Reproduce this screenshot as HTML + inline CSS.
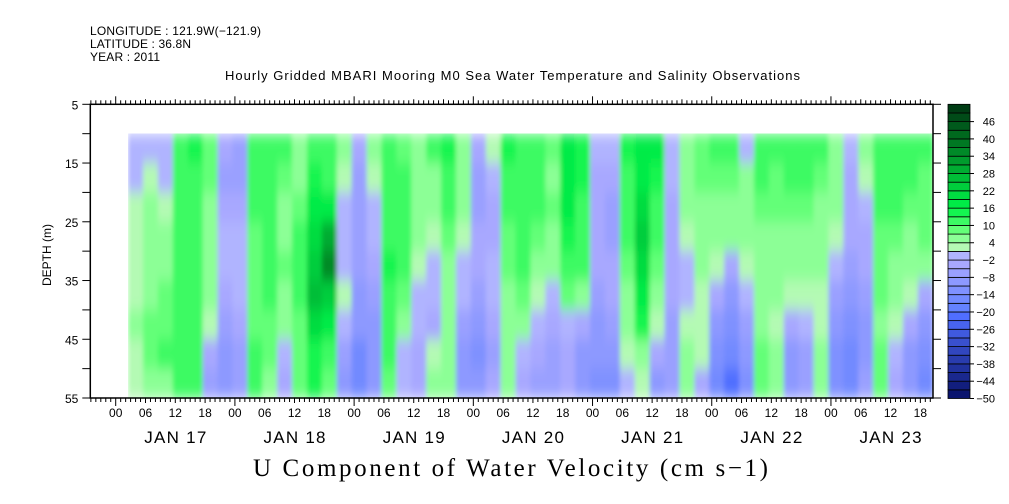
<!DOCTYPE html>
<html><head><meta charset="utf-8">
<style>
body{margin:0;background:#fff;}
svg{display:block;font-family:"Liberation Sans",sans-serif;}
</style></head>
<body>
<svg id="chart" width="1009" height="504" viewBox="0 0 1009 504" xmlns="http://www.w3.org/2000/svg">
<defs>
<filter id="smooth" x="0" y="0" width="1" height="1" filterUnits="objectBoundingBox">
<feGaussianBlur stdDeviation="2.2 7" edgeMode="duplicate"/>
</filter>
</defs>
<text x="90" y="35" font-size="12" textLength="171">LONGITUDE : 121.9W(−121.9)</text>
<text x="90" y="48" font-size="12" textLength="101">LATITUDE : 36.8N</text>
<text x="90" y="61" font-size="12" textLength="70">YEAR : 2011</text>
<text x="225" y="80" font-size="13" textLength="575">Hourly Gridded MBARI Mooring M0 Sea Water Temperature and Salinity Observations</text>
<text x="0" y="0" font-size="12" text-anchor="middle" transform="translate(51,255) rotate(-90)">DEPTH (m)</text>
<text x="253" y="476" font-size="25" textLength="515" font-family="Liberation Serif, serif">U Component of Water Velocity (cm s−1)</text>
<g id="cells" filter="url(#smooth)"></g>
<g id="axes"></g>
<g id="cbar"></g>
</svg>
<script>
// hours since Jan 17 00:00 at start of each 3-hour column
const colStartHours = [];
for (let i = 0; i < 54; i++) colStartHours.push(2.5 + 3 * i);
const depthEdges = [10,15,20,25,30,35,40,45,50,55];
const dayLabels = ["JAN 17","JAN 18","JAN 19","JAN 20","JAN 21","JAN 22","JAN 23"];
const hourLabels = ["00","06","12","18"];
const depthTicks = [5,15,25,35,45,55];
const cbarLabels = [46,40,34,28,22,16,10,4,-2,-8,-14,-20,-26,-32,-38,-44,-50];
// values[column][depth row top->bottom] (cm/s)
const values = [
[-2,-1,2,3,3,3,4,2,3],[0,2,4,5,6,6,8,8,6],[-2,0,3,5,6,8,8,10,6],[12,12,10,10,10,10,12,12,10],
[14,12,12,12,10,10,12,12,12],[8,8,6,6,6,4,2,-4,-6],[-4,-6,-4,-2,-2,-4,-6,-8,-8],[-6,-6,-4,-2,-2,-2,-4,-6,-6],
[12,10,10,8,8,8,8,10,10],[12,12,12,10,10,10,8,8,6],[10,8,6,6,8,6,4,-2,-4],[4,6,8,10,10,10,8,8,8],
[12,14,16,20,24,26,20,14,14],[10,12,16,28,34,24,16,10,8],[4,2,0,-2,0,2,0,-6,-8],[-4,-6,-6,-6,-6,-8,-10,-14,-16],
[4,2,0,-2,-4,-6,-8,-10,-8],[10,10,12,12,14,12,12,10,8],[8,10,10,10,10,8,6,0,-2],[6,4,4,4,2,0,-2,-4,-4],
[10,6,4,2,0,-2,-4,2,4],[14,12,10,8,6,4,4,6,6],[6,6,4,2,0,-2,-6,-10,-10],[-4,-6,-6,-4,-4,-6,-8,-12,-10],
[2,-2,-4,-4,-2,-2,-4,-6,-4],[14,12,10,8,8,6,4,4,4],
[12,12,12,10,10,8,4,-2,-4],[10,10,10,8,6,2,-2,-4,-6],[8,6,8,6,4,0,-4,-6,-6],[16,18,16,14,12,8,0,-4,-4],
[14,14,12,12,10,4,-4,-8,-10],[-2,-4,-4,-4,-4,-6,-8,-10,-12],[-2,-4,-6,-6,-4,-4,-6,-10,-12],[14,12,12,10,8,6,4,2,-2],
[18,18,20,22,20,18,14,6,2],[16,14,12,10,8,4,2,-4,-8],[-2,-2,-4,-4,-4,-4,-6,-6,-6],[6,6,4,2,-2,-2,2,4,4],
[8,8,6,4,4,2,2,2,-4],[10,8,6,4,2,-4,-8,-12,-14],[10,8,6,4,-4,-8,-12,-16,-20],[-2,4,6,4,2,-2,-6,-10,-12],
[10,10,8,6,4,4,6,8,8],[10,8,8,6,4,4,2,4,6],[10,10,8,6,4,2,-4,-8,-10],[12,10,8,6,4,2,-2,-6,-6],
[10,8,6,4,4,2,2,4,4],[6,4,4,2,-2,-6,-10,-12,-12],[-2,-4,-4,-4,-6,-8,-12,-16,-16],[4,2,-2,-4,-4,-6,-8,-10,-6],
[10,10,10,8,8,8,6,8,8],[12,12,10,8,6,4,2,-2,-4],[12,10,8,6,4,2,-4,-8,-10],[10,8,8,8,6,-4,-8,-12,-14]
];
const NS="http://www.w3.org/2000/svg";
const X0=115.7, PXH=4.967, AXL=90.3, AXR=933, AXT=104.3, AXB=398;
const xScale=h=>X0+PXH*h;
const yScale=d=>AXT+(d-5)*(AXB-AXT)/50;
function lerp(a,b,t){return a.map((v,i)=>Math.round(v+(b[i]-v)*t));}
function color(v){
  if(v>=-2&&v<1) return "rgb(176,180,255)";
  if(v>=1){
    const k=Math.min(16,Math.floor((v-1)/3));
    const stops=[[180,250,180],[140,255,150],[100,255,120],[60,250,100],[20,245,80],[0,235,70],[0,220,65],[0,205,60],[0,190,55],[0,172,50],[0,155,45],[0,138,40],[0,120,35],[0,105,30],[0,90,28],[0,75,24],[0,60,20]];
    const c=stops[k];return `rgb(${c[0]},${c[1]},${c[2]})`;
  }
  const k=Math.min(15,Math.floor((-2-v)/3));
  const c=k<6?lerp([168,168,255],[100,130,255],k/5):lerp([80,110,255],[10,20,110],(k-6)/9);
  return `rgb(${c[0]},${c[1]},${c[2]})`;
}
const cells=document.getElementById('cells');
values.forEach((col,i)=>{
  col.forEach((v,j)=>{
    const r=document.createElementNS(NS,'rect');
    const x1=xScale(colStartHours[i]), x2=xScale(colStartHours[i]+3);
    const y1=yScale(depthEdges[j]), y2=yScale(depthEdges[j+1]);
    r.setAttribute('x',x1.toFixed(2));r.setAttribute('y',y1.toFixed(2));
    r.setAttribute('width',(x2-x1+0.6).toFixed(2));r.setAttribute('height',(y2-y1+0.6).toFixed(2));
    r.setAttribute('fill',color(v));
    
    
    cells.appendChild(r);
  });
});
const axes=document.getElementById('axes');
function line(g,x1,y1,x2,y2,w){const l=document.createElementNS(NS,'line');l.setAttribute('x1',x1);l.setAttribute('y1',y1);l.setAttribute('x2',x2);l.setAttribute('y2',y2);l.setAttribute('stroke','#000');l.setAttribute('stroke-width',w||1);g.appendChild(l);return l;}
function text(g,x,y,s,size,anchor,name){const t=document.createElementNS(NS,'text');t.setAttribute('x',x);t.setAttribute('y',y);t.setAttribute('font-size',size);t.setAttribute('text-anchor',anchor||'middle');t.textContent=s;


g.appendChild(t);return t;}
const fr=document.createElementNS(NS,'rect');
fr.setAttribute('x',AXL);fr.setAttribute('y',AXT);fr.setAttribute('width',AXR-AXL);fr.setAttribute('height',AXB-AXT);fr.setAttribute('fill','none');fr.setAttribute('stroke','#000');fr.setAttribute('stroke-width',1.5);


axes.appendChild(fr);
for(let h=-5;h<=165;h++){
  const x=xScale(h); if(x<AXL||x>AXR) continue;
  const len=(h%24===0)?8:((h%6===0)?5:4);
  line(axes,x,AXB,x,AXB+len);
  line(axes,x,AXT,x,AXT-len);
  if(h%6===0){text(axes,x,AXB+19,hourLabels[((h/6)%4+4)%4],12,'middle','x-tick-label');}
}
dayLabels.forEach((d,i)=>{const t=text(axes,xScale(24*i+12),AXB+45,d,17,'middle','day-label');t.setAttribute('textLength','62');});
for(let d=5;d<=55;d+=5){const y=yScale(d);line(axes,AXL-8,y,AXL,y);line(axes,AXR,y,AXR+8,y);}
depthTicks.forEach(d=>{text(axes,AXL-12,yScale(d)+5,String(d),12,'end','y-tick-label');});
// colorbar
const cb=document.getElementById('cbar');
const CX=948,CW=22,CT=104.3,CB=398.5,N=34;
for(let k=0;k<N;k++){
  const lo=-50+3*k;
  const y2=CB-(CB-CT)*k/N, y1=CB-(CB-CT)*(k+1)/N;
  const r=document.createElementNS(NS,'rect');
  r.setAttribute('x',CX);r.setAttribute('y',y1);r.setAttribute('width',CW);r.setAttribute('height',y2-y1);
  r.setAttribute('fill',color(lo+1.5));r.setAttribute('stroke','#000');r.setAttribute('stroke-width',0.8);
  
  
  cb.appendChild(r);
}
cbarLabels.forEach(v=>{
  const y=CB-(CB-CT)*(v+50)/102;
  line(cb,CX+CW,y,CX+CW+4,y);
  text(cb,CX+CW+25,y+4,v<0?'−'+(-v):String(v),11,'end','colorbar-label');
});
</script>
</body></html>
